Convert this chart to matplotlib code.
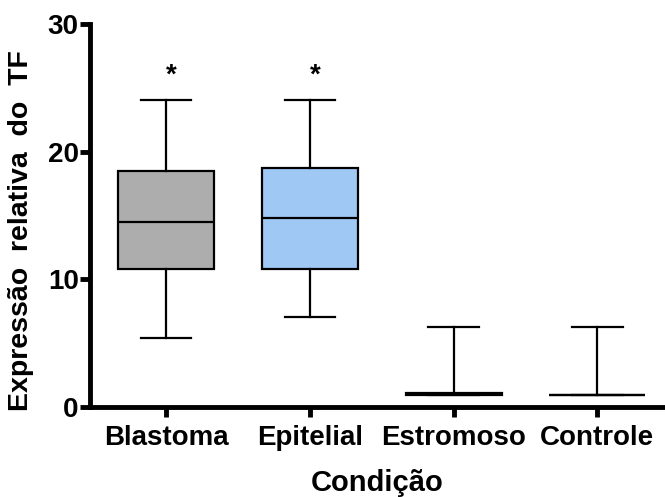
import matplotlib
matplotlib.use("Agg")
import matplotlib.pyplot as plt

plt.rcParams['font.family'] = ['Liberation Sans', 'DejaVu Sans']
plt.rcParams['font.weight'] = 'bold'

categorias = ["Blastoma", "Epitelial", "Estromoso", "Controle"]
whislo = [5.4, 7.05, 0.95, 0.95]
q1 = [10.8, 10.8, 0.95, 0.95]
med = [14.5, 14.8, 1.0, 0.95]
q3 = [18.5, 18.7, 1.1, 0.95]
whishi = [24.0, 24.0, 6.3, 6.3]
cores = ["#adadad", "#a0c8f5", "white", "white"]
signif = ["*", "*", "", ""]

stats = []
for i, nome in enumerate(categorias):
    stats.append(dict(label=nome, whislo=whislo[i], q1=q1[i], med=med[i],
                      q3=q3[i], whishi=whishi[i], fliers=[]))

fig = plt.figure(figsize=(6.65, 4.97), dpi=100)
ax = fig.add_axes([0.135, 0.181, 0.865, 0.771])

pos = list(range(len(categorias)))
bp = ax.bxp(stats, positions=pos, widths=0.667, patch_artist=True,
            showfliers=False,
            boxprops=dict(linewidth=1.6, edgecolor='black'),
            medianprops=dict(color='black', linewidth=1.6),
            whiskerprops=dict(color='black', linewidth=1.6),
            capprops=dict(color='black', linewidth=1.6),
            capwidths=0.35)
for patch, c in zip(bp['boxes'], cores):
    patch.set_facecolor(c)

for i, s in enumerate(signif):
    if s:
        ax.text(pos[i] + 0.04, whishi[i] + 0.9, s, ha='center', va='bottom',
                fontsize=20, fontweight='bold')

ax.set_xlim(-0.53, 3.47)
ax.set_ylim(0, 30)
ax.set_yticks([0, 10, 20, 30])
ax.set_xticks(pos)
ax.set_xticklabels(categorias)

for s in ['top', 'right']:
    ax.spines[s].set_visible(False)
for s in ['left', 'bottom']:
    ax.spines[s].set_linewidth(3.5)
ax.tick_params(axis='both', width=3.5, length=7, labelsize=20)
ax.tick_params(axis='y', pad=1)
ax.tick_params(axis='x', pad=6)

ax.set_xlabel("Condição", fontsize=21, fontweight='bold', labelpad=13)
ax.set_ylabel("Expressão  relativa  do  TF", fontsize=20.5, fontweight='bold')
ax.yaxis.set_label_coords(-0.097, 0.46)

fig.savefig("out.png", dpi=100)
